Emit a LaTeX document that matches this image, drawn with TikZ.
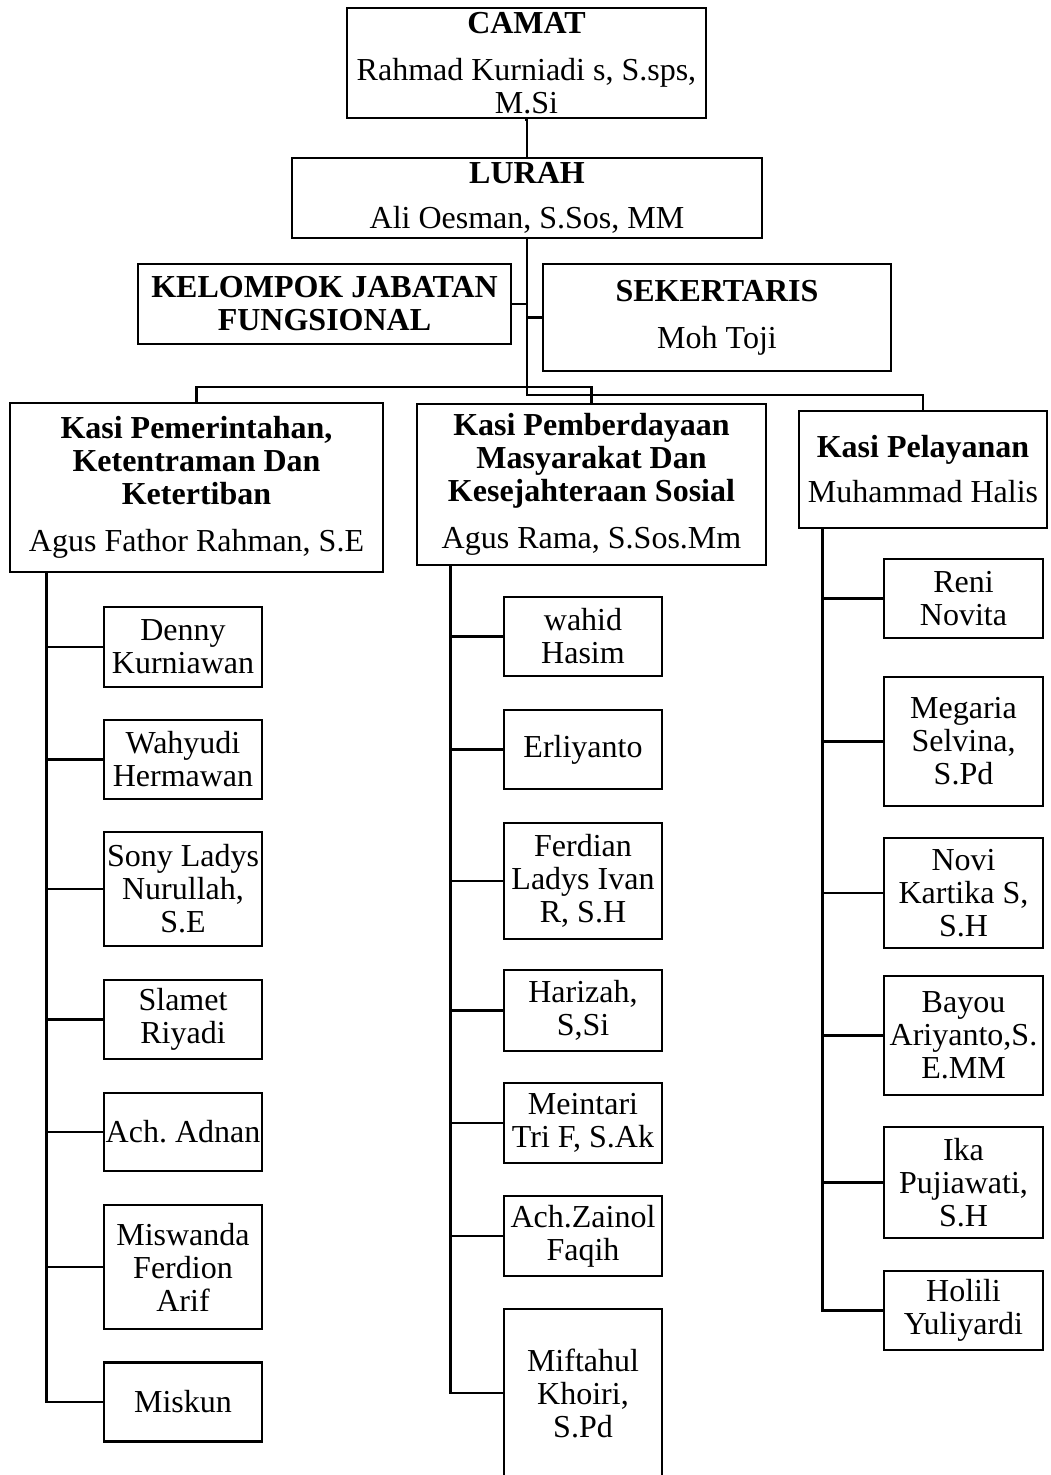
\documentclass[tikz,border=0pt]{standalone}
\usepackage{fontspec}
\setmainfont{Liberation Serif}
\frenchspacing
\begin{document}
\begin{tikzpicture}[x=1pt,y=-1pt,
  box/.style={draw, line width=2.6pt, inner sep=0pt, align=center,
    font=\fontsize{32}{33}\selectfont},
  conn/.style={line width=2.6pt, line cap=rect}]
\useasboundingbox (0,0) rectangle (1050,1475);
\clip (0,0) rectangle (1050,1475);
% top levels
\node[box, minimum width=359pt, minimum height=110pt] (camat) at (526.5,63)
  {\textbf{CAMAT}\\[14pt]Rahmad Kurniadi s, S.sps,\\M.Si};
\node[box, minimum width=470pt, minimum height=80pt] (lurah) at (527,198)
  {\textbf{LURAH}\\[12pt]Ali Oesman, S.Sos, MM};
\node[box, minimum width=373pt, minimum height=80pt] (kel) at (324.5,304)
  {\textbf{KELOMPOK JABATAN}\\\textbf{FUNGSIONAL}};
\node[box, minimum width=348pt, minimum height=107pt] (sek) at (717,317.5)
  {\textbf{SEKERTARIS}\\[14pt]Moh Toji};
\node[box, minimum width=373pt, minimum height=169pt] (b1) at (196.5,487.5)
  {\textbf{Kasi Pemerintahan,}\\\textbf{Ketentraman Dan}\\\textbf{Ketertiban}\\[14pt]Agus Fathor Rahman, S.E};
\node[box, minimum width=349pt, minimum height=161pt] (b2) at (591.5,484.5)
  {\textbf{Kasi Pemberdayaan}\\\textbf{Masyarakat Dan}\\\textbf{Kesejahteraan Sosial}\\[14pt]Agus Rama, S.Sos.Mm};
\node[box, minimum width=248pt, minimum height=117pt] (b3) at (923,469.5)
  {\textbf{Kasi Pelayanan}\\[12pt]Muhammad Halis};
% connectors top
\coordinate (h1) at (0,387);
\coordinate (h2) at (0,395);
\draw[conn] (camat.south) -- (lurah.south |- camat.south) -- (lurah.north);
\draw[conn] (lurah.south) -- (lurah.south |- h2) -- (b3.north |- h2) -- (b3.north);
\draw[conn] (kel.east) -- (kel.east -| lurah.south);
\draw[conn] (sek.west) -- (sek.west -| lurah.south);
\draw[conn] (b1.north) -- (b1.north |- h1) -- (b2.north |- h1) -- (b2.north);
% column 1
\begin{scope}[every node/.style={box, minimum width=158pt}]
\node[minimum height=80pt] (c11) at (183,647) {Denny\\Kurniawan};
\node[minimum height=79pt] (c12) at (183,759.5) {Wahyudi\\Hermawan};
\node[minimum height=114pt] (c13) at (183,889) {Sony Ladys\\Nurullah,\\S.E};
\node[minimum height=79pt] (c14) at (183,1019.5) {Slamet\\Riyadi};
\node[minimum height=78pt] (c15) at (183,1132) {Ach. Adnan};
\node[minimum height=124pt] (c16) at (183,1267) {Miswanda\\Ferdion\\Arif};
\node[minimum height=79pt] (c17) at (183,1402) {Miskun};
\end{scope}
\coordinate (t1) at ([xshift=38pt]b1.south west);
\draw[conn] (t1) |- (c17.west);
\foreach \n in {c11,c12,c13,c14,c15,c16}{\draw[conn] (\n.west) -- (\n.west -| t1);}
% column 2
\begin{scope}[every node/.style={box, minimum width=158pt}]
\node[minimum height=79pt] (c21) at (583,636.5) {wahid\\Hasim};
\node[minimum height=79pt] (c22) at (583,749.5) {Erliyanto};
\node[minimum height=116pt] (c23) at (583,881) {Ferdian\\Ladys Ivan\\R, S.H};
\node[minimum height=81pt] (c24) at (583,1010.5) {Harizah,\\S,Si};
\node[minimum height=80pt] (c25) at (583,1123) {Meintari\\Tri F, S.Ak};
\node[minimum height=80pt] (c26) at (583,1236) {Ach.Zainol\\Faqih};
\node[minimum height=168pt] (c27) at (583,1393) {Miftahul\\Khoiri,\\S.Pd};
\end{scope}
\coordinate (t2) at ([xshift=35pt]b2.south west);
\draw[conn] (t2) |- (c27.west);
\foreach \n in {c21,c22,c23,c24,c25,c26}{\draw[conn] (\n.west) -- (\n.west -| t2);}
% column 3
\begin{scope}[every node/.style={box, minimum width=159pt}]
\node[minimum height=79pt] (c31) at (963.5,598.5) {Reni\\Novita};
\node[minimum height=129pt] (c32) at (963.5,741.5) {Megaria\\Selvina,\\S.Pd};
\node[minimum height=110pt] (c33) at (963.5,893) {Novi\\Kartika S,\\S.H};
\node[minimum height=119pt] (c34) at (963.5,1035.5) {Bayou\\Ariyanto,S.\\E.MM};
\node[minimum height=111pt] (c35) at (963.5,1182.5) {Ika\\Pujiawati,\\S.H};
\node[minimum height=79pt] (c36) at (963.5,1310.5) {Holili\\Yuliyardi};
\end{scope}
\coordinate (t3) at ([xshift=25pt]b3.south west);
\draw[conn] (t3) |- (c36.west);
\foreach \n in {c31,c32,c33,c34,c35}{\draw[conn] (\n.west) -- (\n.west -| t3);}
\end{tikzpicture}
\end{document}
